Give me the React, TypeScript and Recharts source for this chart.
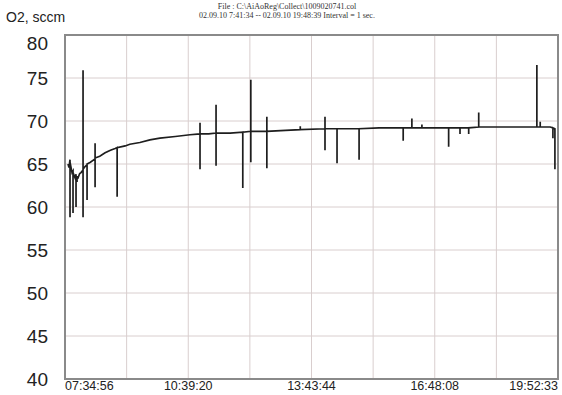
import React from 'react'
import { LineChart, Line, XAxis, YAxis, CartesianGrid, ReferenceArea } from 'recharts'

// minutes after 07:34:56, O2 flow (sccm); repeated minutes are spikes
const minutes = [
  4.5, 6, 7.5, 7.5, 7.5, 10.5, 12, 12, 12, 15, 16.5, 16.5, 16.5, 18, 18, 18, 19.5, 22, 24, 27, 27, 27, 27,
  30, 33, 33, 33, 38, 45, 45, 45, 45, 52, 60, 68, 75, 78, 78, 78, 90, 97, 112, 127, 142, 165, 187,
  202, 202, 202, 202, 215, 226, 226, 226, 226, 247, 266, 266, 266, 278, 278, 278, 278, 290,
  302, 302, 302, 302, 330, 352, 352, 352, 389, 389, 389, 389, 407, 407, 407, 426, 440, 440, 440,
  470, 501, 506, 506, 506, 519, 519, 519, 534, 534, 534, 560, 574, 574, 574, 591, 591, 591,
  604, 604, 604, 619, 619, 619, 650, 680, 706, 706, 706, 711, 711, 711, 726, 730, 730, 730, 733, 733,
]
const o2 = [
  65.0, 64.6, 65.5, 58.8, 65.2, 64.0, 64.2, 59.3, 64.0, 63.4, 63.8, 60.0, 63.6, 63.5, 62.9, 63.5, 63.4, 63.9, 64.0, 64.3, 75.9, 58.8, 64.4,
  64.7, 64.9, 60.8, 65.0, 65.2, 65.6, 67.4, 62.3, 65.7, 65.9, 66.3, 66.6, 66.8, 66.9, 61.2, 66.9, 67.1, 67.3, 67.5, 67.8, 68.0, 68.2, 68.4,
  68.5, 69.8, 64.4, 68.5, 68.5, 68.6, 71.9, 64.8, 68.6, 68.6, 68.7, 62.2, 68.7, 68.8, 74.8, 65.2, 68.8, 68.8,
  68.8, 70.5, 64.5, 68.8, 68.9, 69.0, 69.4, 69.0, 69.1, 70.5, 66.6, 69.1, 69.1, 65.1, 69.1, 69.1, 69.1, 65.5, 69.1,
  69.2, 69.2, 69.2, 67.7, 69.2, 69.2, 70.3, 69.2, 69.2, 69.6, 69.2, 69.2, 69.2, 67.0, 69.2, 69.2, 68.5, 69.2,
  69.2, 68.5, 69.2, 69.3, 71.0, 69.3, 69.3, 69.3, 69.3, 76.5, 69.3, 69.3, 69.9, 69.3, 69.3, 69.2, 68.0, 69.2, 69.1, 64.4,
]

const xTickLabels = ['07:34:56', '10:39:20', '13:43:44', '16:48:08', '19:52:33']
const yTicks = [40, 45, 50, 55, 60, 65, 70, 75, 80]

const SPAN = 44257 / 60
const xTicks = Array.from({ length: 9 }, (_, i) => (i * SPAN) / 8)

const data = minutes.map((m, i) => ({ m, v: o2[i] }))

function XTick(props: any) {
  const { x, index } = props
  if (index % 2 !== 0) return null
  const label = xTickLabels[index / 2]
  const anchor = index === 0 ? 'start' : index === 8 ? 'end' : 'middle'
  return (
    <text x={x} y={390} textAnchor={anchor} fontSize={12.5} fill="#222" fontFamily="Liberation Sans, Arial, sans-serif">
      {label}
    </text>
  )
}

function YTick(props: any) {
  const { y, payload } = props
  const shift = payload.value === 80 ? 8 : 0
  return (
    <text x={48} y={y + shift + 7} textAnchor="end" fontSize={19} fill="#222" fontFamily="Liberation Sans, Arial, sans-serif">
      {payload.value}
    </text>
  )
}

export default function App() {
  return (
    <div style={{ position: 'absolute', left: 0, top: 0, width: 562, height: 395, background: '#fff' }}>
      <div style={{ position: 'absolute', left: 0, width: 574, top: 2, textAlign: 'center', fontFamily: 'Liberation Serif, serif', fontSize: 8, lineHeight: '9px', color: '#333' }}>
        <div>File : C:\AiAoReg\Collect\1009020741.col</div>
        <div>02.09.10 7:41:34 -- 02.09.10 19:48:39 Interval = 1 sec.</div>
      </div>
      <div style={{ position: 'absolute', left: 6, top: 9, fontFamily: 'Liberation Sans, Arial, sans-serif', fontSize: 14, color: '#222' }}>
        O2, sccm
      </div>
      <LineChart width={562} height={395} data={data} margin={{ top: 35, right: 4, left: 0, bottom: 0 }}>
        <CartesianGrid stroke="#d9cece" strokeWidth={1} />
        <XAxis
          dataKey="m"
          type="number"
          domain={[0, SPAN]}
          ticks={xTicks}
          tick={<XTick />}
          tickLine={false}
          axisLine={false}
          height={16}
          interval={0}
        />
        <YAxis
          domain={[40, 80]}
          ticks={yTicks}
          tick={<YTick />}
          tickLine={false}
          axisLine={false}
          width={65}
          interval={0}
        />
        <ReferenceArea x1={0} x2={SPAN} y1={40} y2={80} fill="none" stroke="#8a8a8a" strokeWidth={2} ifOverflow="visible" />
        <Line
          type="linear"
          dataKey="v"
          stroke="#1e1e1e"
          strokeWidth={1.7}
          dot={false}
          isAnimationActive={false}
        />
      </LineChart>
    </div>
  )
}
